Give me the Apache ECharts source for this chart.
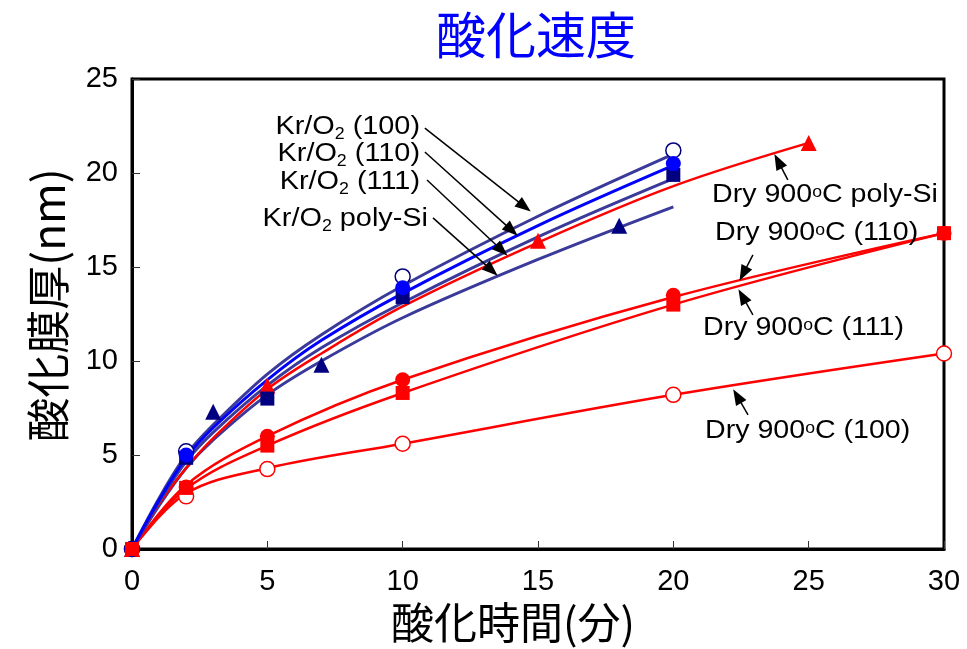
<!DOCTYPE html>
<html>
<head>
<meta charset="utf-8">
<script src="https://cdn.jsdelivr.net/npm/echarts@6/dist/echarts.min.js"></script>
<style>
  html, body { margin: 0; padding: 0; background: #fff; }
  #chart { width: 967px; height: 649px; }
</style>
</head>
<body>
<div id="chart"></div>
<script>
// Axis ranges and ticks
const xTicks = [0, 5, 10, 15, 20, 25, 30];
const yTicks = [0, 5, 10, 15, 20, 25];

// Measured points [minutes, nm]
const krO2_100 = [[0, 0], [2, 5.2], [10, 14.5], [20, 21.2]];
const krO2_110 = [[0, 0], [2, 5.0], [10, 13.9], [20, 20.5]];
const krO2_111 = [[0, 0], [2, 4.85], [5, 8.0], [10, 13.4], [20, 19.9]];
const krO2_poly = [[0, 0], [3, 7.3], [7, 9.8], [18, 17.2]];
const dry_poly = [[0, 0], [5, 8.7], [15, 16.4], [25, 21.6]];
const dry_110 = [[0, 0], [2, 3.3], [5, 6.0], [10, 9.0], [20, 13.5], [30, 16.8]];
const dry_111 = [[0, 0], [2, 3.25], [5, 5.5], [10, 8.3], [20, 13.0], [30, 16.8]];
const dry_100 = [[0, 0], [2, 2.8], [5, 4.25], [10, 5.6], [20, 8.2], [30, 10.4]];

// Fitted growth curves
const fit_krO2_100 = [[0, 0], [1, 2.7], [2, 5.0], [3, 6.6], [5, 9.3], [7, 11.4], [10, 14.0], [15, 17.7], [20, 21.0]];
const fit_krO2_110 = [[0, 0], [1, 2.6], [2, 4.85], [3, 6.45], [5, 9.0], [7, 11.1], [10, 13.6], [15, 17.2], [20, 20.4]];
const fit_krO2_111 = [[0, 0], [1, 2.5], [2, 4.65], [3, 6.2], [5, 8.7], [7, 10.7], [10, 13.1], [15, 16.6], [20, 19.7]];
const fit_krO2_poly = [[0, 0], [1, 2.3], [2, 4.3], [3, 5.8], [5, 8.2], [7, 10.0], [10, 12.3], [15, 15.4], [20, 18.2]];
const fit_dry_poly = [[0, 0], [1, 2.4], [2, 4.3], [3, 5.9], [5, 8.5], [7, 10.4], [10, 12.9], [15, 16.3], [20, 19.3], [25, 21.6]];
const fit_dry_110 = [[0, 0], [2, 3.4], [5, 6.0], [10, 9.0], [20, 13.4], [30, 16.8]];
const fit_dry_111 = [[0, 0], [2, 3.2], [5, 5.5], [10, 8.3], [20, 13.0], [30, 16.8]];
const fit_dry_100 = [[0, 0], [2, 2.95], [5, 4.3], [10, 5.6], [20, 8.2], [30, 10.4]];

// Callout arrows: [from, to] in data units
const arrows = [
  [[10.82, 22.39], [14.50, 18.21]],
  [[10.82, 21.12], [14.03, 16.95]],
  [[10.90, 19.63], [13.66, 15.89]],
  [[11.12, 17.61], [13.29, 14.82]],
  [[24.23, 19.63], [23.87, 20.63]],
  [[22.94, 15.64], [22.58, 14.64]],
  [[22.94, 12.45], [22.55, 13.45]],
  [[22.76, 7.13], [22.36, 8.13]]
];

const SLATE = '#3a3a9a';
const NAVY = '#000080';
const BLUE = '#0000ff';
const RED = '#ff0000';
const LATIN = 'Liberation Sans, Arial, sans-serif';
const CJK = '"Noto Sans CJK JP", "Noto Sans CJK SC", sans-serif';

function fitLine(data, color, width) {
  return {
    type: 'line', data: data, smooth: 0.35, showSymbol: false, symbol: 'none',
    lineStyle: { color: color, width: width }, silent: true, z: 2
  };
}
function markers(data, symbol, size, fill, stroke) {
  return {
    type: 'scatter', data: data, symbol: symbol, symbolSize: size, clip: false,
    itemStyle: { color: fill, borderColor: stroke, borderWidth: stroke ? 1.5 : 0, opacity: 1 },
    silent: true, z: 4
  };
}

// Subscript "2" is pushed down with top padding inside a centred line
const krRich = { s: { fontSize: 16, fontFamily: LATIN, verticalAlign: 'middle', padding: [16, 0, 0, 0], fill: '#000' },
                 m: { fontSize: 26, fontFamily: LATIN, lineHeight: 32, verticalAlign: 'middle', fill: '#000' } };
const dryRich = { o: { fontSize: 16, fontFamily: LATIN, verticalAlign: 'middle', padding: [0, 0, 4, 0], fill: '#000' },
                  m: { fontSize: 26, fontFamily: LATIN, lineHeight: 32, verticalAlign: 'middle', fill: '#000' } };

function krLabel(tail, x, y) {
  return { type: 'text', x: x, y: y, z: 20, scaleX: 1.11,
    style: { text: '{m|Kr/O}{s|2}{m| ' + tail + '}', rich: krRich, align: 'right', verticalAlign: 'middle' } };
}
function dryLabel(tail, x, y) {
  return { type: 'text', x: x, y: y, z: 20, scaleX: 1.1,
    style: { text: '{m|Dry 900}{o|o}{m|C ' + tail + '}', rich: dryRich, align: 'left', verticalAlign: 'middle' } };
}

const chart = echarts.init(document.getElementById('chart'), null, { renderer: 'canvas' });
chart.setOption({
  animation: false,
  backgroundColor: '#fff',
  grid: { left: 132, right: 23, top: 79, bottom: 100, show: true, borderColor: '#000', borderWidth: 3, backgroundColor: 'transparent' },
  xAxis: {
    type: 'value', min: xTicks[0], max: xTicks[xTicks.length - 1], interval: 5,
    name: '酸化時間(分)', nameLocation: 'middle', nameGap: 44,
    nameTextStyle: { fontSize: 43, fontFamily: CJK, color: '#000', padding: [0, 50, 0, 0] },
    axisLine: { lineStyle: { color: '#000', width: 3 } },
    axisTick: { inside: true, length: 8, lineStyle: { color: '#333', width: 1 } },
    axisLabel: { fontSize: 29, fontFamily: LATIN, color: '#000', margin: 18 },
    splitLine: { show: false }
  },
  yAxis: {
    type: 'value', min: yTicks[0], max: yTicks[yTicks.length - 1], interval: 5,
    name: '酸化膜厚(nm)', nameLocation: 'middle', nameGap: 62, nameRotate: 90,
    nameTextStyle: { fontSize: 44, fontFamily: CJK, color: '#000', padding: [0, 0, 0, 18] },
    axisLine: { lineStyle: { color: '#000', width: 3 } },
    axisTick: { inside: true, length: 8, lineStyle: { color: '#333', width: 1 } },
    axisLabel: { fontSize: 29, fontFamily: LATIN, color: '#000', margin: 14 },
    splitLine: { show: false }
  },
  series: [
    fitLine(fit_dry_100, RED, 2.5),
    fitLine(fit_dry_111, RED, 2.5),
    fitLine(fit_dry_110, RED, 2.5),
    fitLine(fit_krO2_poly, SLATE, 3),
    fitLine(fit_dry_poly, RED, 2.5),
    fitLine(fit_krO2_111, SLATE, 3),
    fitLine(fit_krO2_100, SLATE, 3),
    fitLine(fit_krO2_110, BLUE, 3),
    markers(dry_100, 'circle', 15, '#fff', RED),
    markers(dry_110, 'circle', 15, RED),
    markers(krO2_poly, 'triangle', 16, NAVY),
    markers(dry_poly, 'triangle', 16, RED),
    markers(krO2_100, 'circle', 15, '#fff', NAVY),
    markers(krO2_111, 'rect', 14, NAVY),
    markers(krO2_110, 'circle', 15, BLUE),
    markers(dry_111, 'rect', 14, RED),
    {
      type: 'line', data: [], silent: true, z: 6,
      markLine: {
        silent: true, animation: false,
        symbol: ['none', 'triangle'], symbolSize: [12, 16],
        label: { show: false },
        lineStyle: { color: '#000', width: 1.5, type: 'solid' },
        emphasis: { disabled: true },
        data: arrows.map(a => [{ coord: a[0] }, { coord: a[1] }])
      }
    }
  ],
  graphic: [
    { type: 'text', x: 536, y: 35, z: 20,
      style: { text: '酸化速度', fontSize: 50, fontFamily: CJK, fill: '#0000ff', align: 'center', verticalAlign: 'middle' } },
    krLabel('(100)', 420, 127),
    krLabel('(110)', 420, 154),
    krLabel('(111)', 420, 182),
    krLabel('poly-Si', 428, 219),
    dryLabel('poly-Si', 712, 195),
    dryLabel('(110)', 715, 233),
    dryLabel('(111)', 703, 328),
    dryLabel('(100)', 705, 431)
  ]
});
</script>
</body>
</html>
